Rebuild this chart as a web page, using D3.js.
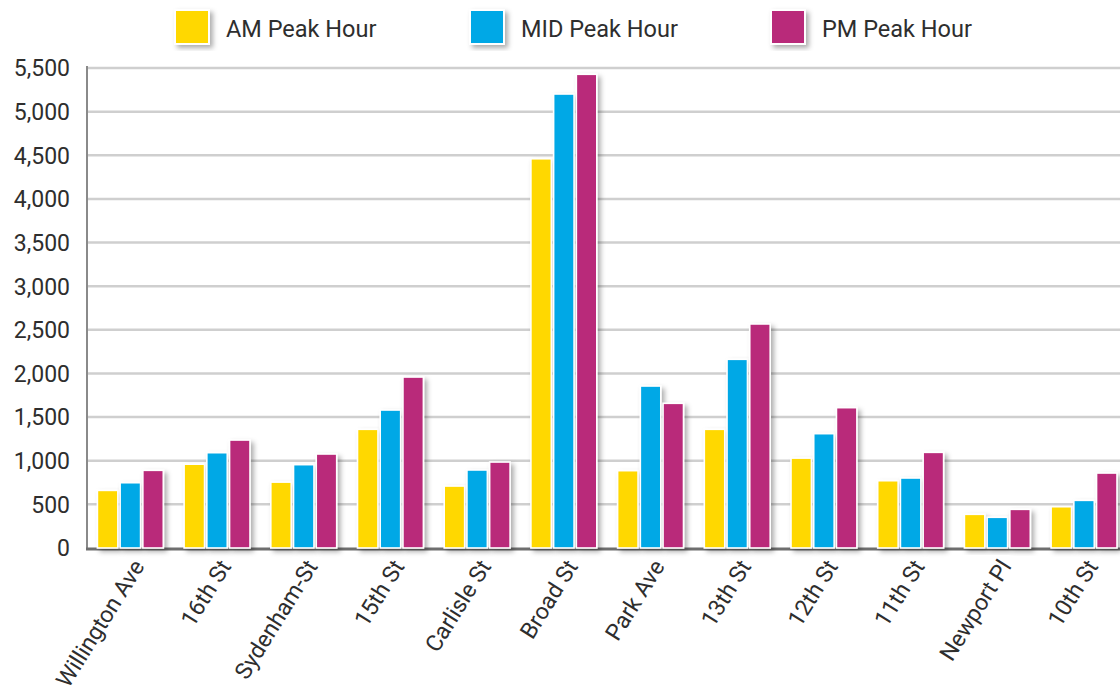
<!DOCTYPE html>
<html>
<head>
<meta charset="utf-8">
<script src="https://cdn.jsdelivr.net/npm/d3@7/dist/d3.min.js"></script>
<style>
  html, body { margin: 0; padding: 0; background: #fff; }
  svg { display: block; font-family: Roboto, "Noto Sans", sans-serif; }
</style>
</head>
<body>
<svg id="chart" width="1120" height="692"></svg>
<script>
// Peak-hour volumes by street
const streets = ["Willington Ave", "16th St", "Sydenham-St", "15th St", "Carlisle St", "Broad St",
                 "Park Ave", "13th St", "12th St", "11th St", "Newport Pl", "10th St"];
const seriesNames = ["AM Peak Hour", "MID Peak Hour", "PM Peak Hour"];
const amPeak  = [660, 960, 755, 1360, 710, 4460, 886, 1360, 1030, 771, 386, 473];
const midPeak = [748, 1092, 955, 1581, 894, 5202, 1856, 2162, 1310, 802, 352, 546];
const pmPeak  = [890, 1237, 1077, 1959, 985, 5428, 1658, 2567, 1608, 1096, 443, 859];
const yTicks  = [0, 500, 1000, 1500, 2000, 2500, 3000, 3500, 4000, 4500, 5000, 5500];
const colors  = ["#ffd800", "#00a8e6", "#b92b7a"];

const svg = d3.select("#chart");
const W = 1120, H = 692;
const left = 87, baseY = 548, topY = 68;
const step = 86.7;

const defs = svg.append("defs");
const f = defs.append("filter").attr("id", "shadow")
  .attr("x", "-30%").attr("y", "-10%").attr("width", "180%").attr("height", "130%");
f.append("feDropShadow").attr("dx", 3).attr("dy", 3).attr("stdDeviation", 2.5)
  .attr("flood-color", "#000").attr("flood-opacity", 0.32);

const x0 = d3.scaleBand().domain(streets)
  .range([left, left + streets.length * step])
  .paddingInner(0.24).paddingOuter(0.12);
const x1 = d3.scaleBand().domain(seriesNames)
  .range([0, x0.bandwidth()]).paddingInner(0.1);
const y = d3.scaleLinear().domain([0, 5500]).range([baseY, topY]);
const color = d3.scaleOrdinal().domain(seriesNames).range(colors);

// gridlines
svg.append("g").selectAll("line").data(yTicks.filter(d => d > 0)).join("line")
  .attr("x1", left).attr("x2", W)
  .attr("y1", d => y(d)).attr("y2", d => y(d))
  .attr("stroke", "#cfcfcf").attr("stroke-width", 2.5);

// y axis
const yAxis = d3.axisLeft(y).tickValues(yTicks).tickSize(0).tickPadding(17)
  .tickFormat(d3.format(","));
const gy = svg.append("g").attr("transform", `translate(${left},0)`).call(yAxis);
gy.select(".domain").attr("stroke", "#8a8a8a").attr("stroke-width", 2)
  .attr("d", `M0,${topY - 2}V${baseY + 1}`);
gy.selectAll("text").attr("font-size", 23).attr("fill", "#2e2e2e")
  .attr("font-family", "Roboto, sans-serif").attr("dy", "0.34em");

// x baseline
svg.append("line").attr("x1", left - 1).attr("x2", W)
  .attr("y1", baseY + 1).attr("y2", baseY + 1)
  .attr("stroke", "#6e6e6e").attr("stroke-width", 3);

// bars
const rows = streets.map((s, i) => ({ street: s, values: [amPeak[i], midPeak[i], pmPeak[i]] }));
const groups = svg.append("g").selectAll("g").data(rows).join("g")
  .attr("transform", d => `translate(${x0(d.street)},0)`);
groups.selectAll("rect")
  .data(d => d.values.map((v, k) => ({ key: seriesNames[k], value: v })))
  .join("rect")
  .attr("x", d => x1(d.key))
  .attr("width", x1.bandwidth())
  .attr("y", d => y(d.value))
  .attr("height", d => baseY - y(d.value))
  .attr("fill", d => color(d.key))
  .attr("stroke", "#fff").attr("stroke-width", 1.6)
  .attr("filter", "url(#shadow)");

// x axis labels
const gx = svg.append("g").attr("transform", `translate(0,${baseY})`)
  .call(d3.axisBottom(x0).tickSize(0).tickPadding(0));
gx.select(".domain").remove();
gx.selectAll("text")
  .attr("font-size", 23).attr("fill", "#2e2e2e").attr("font-family", "Roboto, sans-serif")
  .attr("text-anchor", "end")
  .attr("transform", "translate(8,14) rotate(-58)")
  .attr("dy", "0.35em").attr("y", 0);

// legend
const legendX = [175, 470, 771];
const lg = svg.append("g").selectAll("g").data(seriesNames).join("g")
  .attr("transform", (d, i) => `translate(${legendX[i]},10)`);
lg.append("rect").attr("width", 34).attr("height", 34)
  .attr("fill", d => color(d)).attr("stroke", "#fff").attr("stroke-width", 2)
  .attr("filter", "url(#shadow)");
lg.append("text").attr("x", 51).attr("y", 19).attr("dy", "0.36em")
  .attr("font-size", 23.5).attr("fill", "#2e2e2e").text(d => d);
</script>
</body>
</html>
